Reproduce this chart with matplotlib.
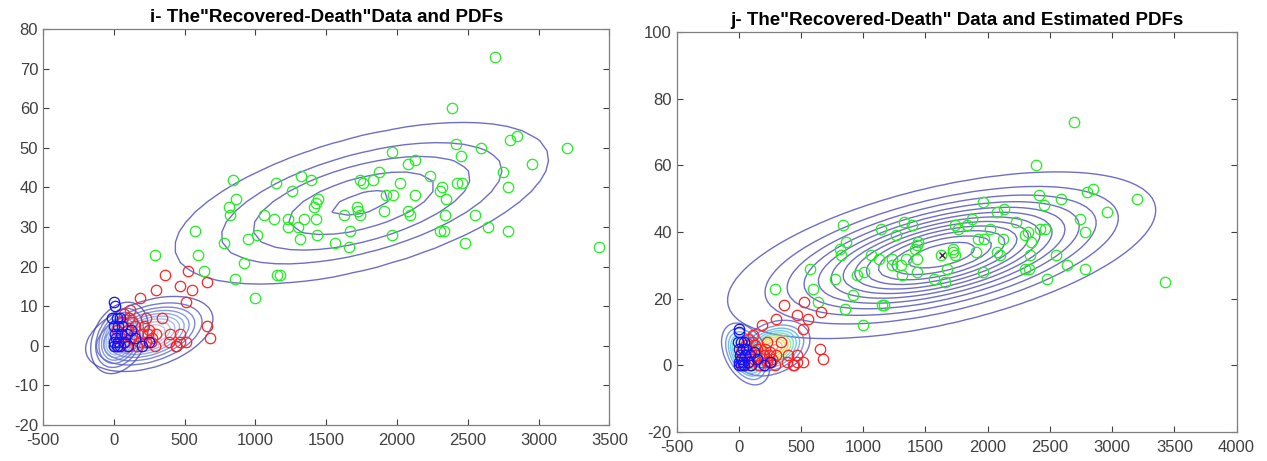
import numpy as np
import matplotlib
matplotlib.use("Agg")
import matplotlib.pyplot as plt
from matplotlib.colors import LinearSegmentedColormap

plt.rcParams['font.family'] = ['Liberation Sans', 'DejaVu Sans']
plt.rcParams['axes.unicode_minus'] = False

# "Recovered" (x) vs "Death" (y) data
green_x = [2693, 2390, 2850, 2795, 2415, 2590, 3200, 2450, 2955, 2745, 2230, 2420, 2460,
           2320, 2300, 2785, 2345, 2340, 2550, 2640, 2300, 2335, 2785, 2480, 3425,
           1965, 2075, 2130, 1875, 1325, 1390, 1145, 1740, 1760, 1830, 2020, 1260, 2125,
           1920, 1970, 1440, 1430, 1415, 1720, 1725, 1735, 1905, 2075, 2095, 1625, 1060,
           1130, 1230, 1340, 1430, 1230, 1300, 1670, 1435, 1965, 1010, 1315, 1565, 1660,
           1150, 1170, 840, 860, 815, 820, 575, 290, 595, 775, 950, 635, 920, 855, 995]
green_y = [73, 60, 53, 52, 51, 50, 50, 48, 46, 44, 43, 41, 41,
           40, 39, 40, 37, 33, 33, 30, 29, 29, 29, 26, 25,
           49, 46, 47, 44, 43, 42, 41, 42, 41, 42, 41, 39, 38,
           38, 38, 37, 36, 35, 35, 34, 33, 34, 34, 33, 33, 33,
           32, 32, 32, 32, 30, 30, 29, 28, 28, 28, 27, 26, 25,
           18, 18, 42, 37, 35, 33, 29, 23, 23, 26, 27, 19, 21, 17, 12]

red_x = [360, 527, 468, 555, 298, 658, 512, 183, 655, 677, 340, 230, 113, 442, 512, 395,
         466, 390, 470, 437, 50, 80, 100, 120, 150, 160, 200, 230, 250, 270, 290, 60,
         30, 40, 90, 130, 180, 210, 260, 300, 140, 70, 110, 240, 20]
red_y = [18, 19, 15, 14, 14, 16, 11, 12, 5, 2, 7, 7, 9, 0, 1, 3,
         3, 1, 1, 0, 3, 1, 4, 2, 5, 0, 3, 1, 4, 2, 0, 6,
         0, 2, 0, 6, 1, 5, 1, 3, 3, 8, 7, 3, 4]

blue_x = [0, 5, -10, 20, 40, 0, 30, 60, 10, 50, 90, 0, 30, 70, 100, 20, 0, 150, 200, 120, 250, 15, 40]
blue_y = [11, 10, 7, 7, 7, 5, 5, 5, 3, 3, 3, 1, 1, 1, 0, 0, 0, 2, 0, 4, 1, 2, 0]

# PDFs of the left panel: mean, std x, std y, correlation
left_green_pdf = [(1750, 36), 712, 11.0, 0.55]
left_red_pdf = [(250, 3), 200, 4.2, 0.4]
left_blue_pdf = [(40, 2), 90, 4.0, 0.3]
# estimated mean of the green cluster (marked with x on the right panel)
est_mean = (1630, 33)

# contour levels as fractions of each component's peak density
left_green_levels = [0.18, 0.38, 0.56, 0.77, 0.956]
right_green_levels = list(np.linspace(0.05, 0.93, 12))
small_levels = list(np.linspace(0.08, 0.95, 10))


def density(mu, cov, xlim, ylim, n):
    gx = np.linspace(xlim[0], xlim[1], n)
    gy = np.linspace(ylim[0], ylim[1], n)
    X, Y = np.meshgrid(gx, gy)
    d = np.stack([X - mu[0], Y - mu[1]], axis=-1)
    inv = np.linalg.inv(cov)
    m = np.einsum('...i,ij,...j->...', d, inv, d)
    return X, Y, np.exp(-0.5 * m)


def from_params(pdf, xlim, ylim, n):
    mu, sx, sy, rho = pdf
    cov = np.array([[sx * sx, rho * sx * sy], [rho * sx * sy, sy * sy]])
    return density(mu, cov, xlim, ylim, n)


def fitted(xs, ys, xlim, ylim, n, mean=None, scale=1.0):
    pts = np.vstack([xs, ys]).astype(float)
    mu = pts.mean(axis=1) if mean is None else np.array(mean, float)
    return density(mu, np.cov(pts) * scale, xlim, ylim, n)


slate = '#5555bb'
left_cmap = LinearSegmentedColormap.from_list('l', ['#4b4bb0', '#5f70d0', '#7f9fe8', '#a8b8e0', '#c0c0c8'])
right_cmap = LinearSegmentedColormap.from_list('r', ['#4b4bc0', '#4f9af0', '#30d0e0', '#a0e040', '#f0d020', '#f08020'])

fig = plt.figure(figsize=(12.67, 4.61), dpi=100)
ax1 = fig.add_axes([0.034, 0.078, 0.447, 0.859])
ax2 = fig.add_axes([0.534, 0.063, 0.442, 0.868])

# ---- left panel ----
X, Y, Z = from_params(left_green_pdf, (-500, 3500), (-20, 80), 40)
ax1.contour(X, Y, Z, levels=left_green_levels, colors=slate, linewidths=1.0, alpha=0.85)
X, Y, Z = from_params(left_red_pdf, (-500, 1000), (-20, 30), 50)
ax1.contour(X, Y, Z, levels=small_levels, cmap=left_cmap, linewidths=1.0, alpha=0.8)
X, Y, Z = from_params(left_blue_pdf, (-500, 1000), (-20, 30), 60)
ax1.contour(X, Y, Z, levels=small_levels, cmap=left_cmap, linewidths=1.0, alpha=0.8)

ms = 7.5
ax1.plot(green_x, green_y, 'o', mfc='none', mec='#22ee22', ms=ms, mew=0.9)
ax1.plot(red_x, red_y, 'o', mfc='none', mec='#ff2222', ms=ms, mew=0.9)
ax1.plot(blue_x, blue_y, 'o', mfc='none', mec='#1111ff', ms=ms, mew=0.9)
ax1.set_xlim(-500, 3500)
ax1.set_ylim(-20, 80)
ax1.set_xticks(np.arange(-500, 3501, 500))
ax1.set_yticks(np.arange(-20, 81, 10))
ax1.set_title('i- The"Recovered-Death"Data and PDFs', fontsize=13.5, fontweight='bold', pad=5)

# ---- right panel ----
X, Y, Z = fitted(green_x, green_y, (-500, 4000), (-20, 100), 90, mean=est_mean)
ax2.contour(X, Y, Z, levels=right_green_levels, colors=slate, linewidths=1.0, alpha=0.85)
X, Y, Z = fitted(red_x, red_y, (-500, 1000), (-20, 30), 50, scale=0.5)
ax2.contour(X, Y, Z, levels=small_levels, cmap=right_cmap, linewidths=1.0, alpha=0.75)
X, Y, Z = fitted(blue_x, blue_y, (-500, 1000), (-20, 30), 70, scale=1.6)
ax2.contour(X, Y, Z, levels=small_levels, cmap=right_cmap, linewidths=1.0, alpha=0.75)

ax2.plot(green_x, green_y, 'o', mfc='none', mec='#22ee22', ms=ms, mew=0.9)
ax2.plot(red_x, red_y, 'o', mfc='none', mec='#ff2222', ms=ms, mew=0.9)
ax2.plot(blue_x, blue_y, 'o', mfc='none', mec='#1111ff', ms=ms, mew=0.9)
ax2.plot([est_mean[0]], [est_mean[1]], 'x', color='#333333', ms=5, mew=1)
ax2.set_xlim(-500, 4000)
ax2.set_ylim(-20, 100)
ax2.set_xticks(np.arange(-500, 4001, 500))
ax2.set_yticks(np.arange(-20, 101, 20))
ax2.set_title('j- The"Recovered-Death" Data and Estimated PDFs', fontsize=13.5, fontweight='bold', pad=5)

for ax in (ax1, ax2):
    ax.tick_params(direction='in', top=True, right=True, labelsize=12,
                   colors='#404040', length=4, width=0.8)
    ax.tick_params(axis='x', pad=6)
    for s in ax.spines.values():
        s.set_color('#7f7f7f')
        s.set_linewidth(0.9)

fig.savefig('out.png', dpi=100)
